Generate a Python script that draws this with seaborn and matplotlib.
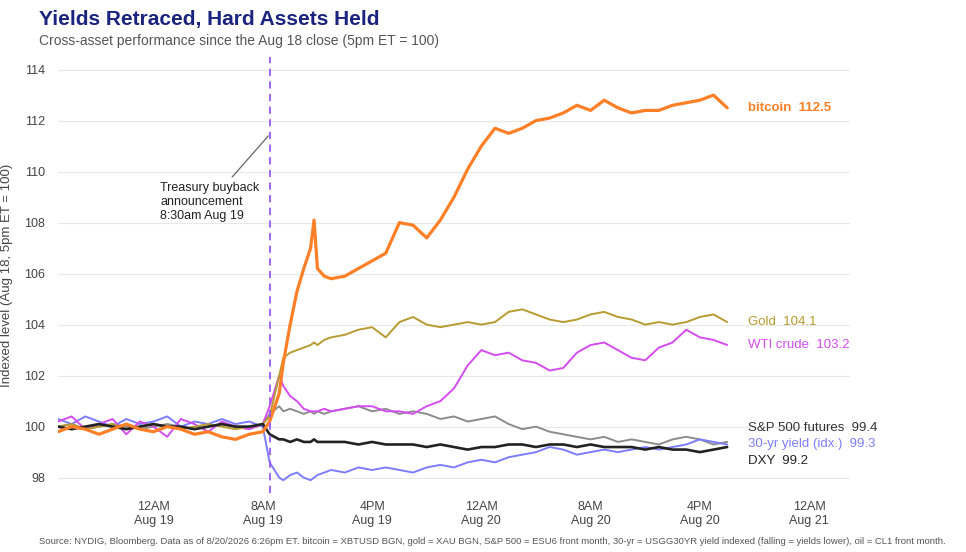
import matplotlib
matplotlib.use("Agg")
import matplotlib.pyplot as plt
import seaborn as sns
import pandas as pd

sns.set_theme(style="white")
plt.rcParams['font.family'] = ['Liberation Sans', 'DejaVu Sans']

hours = [0,1,2,3,4,5,6,7,8,9,10,11,12,13,14,15,15.5,16.2,16.5,17,17.5,18,18.5,18.75,19,19.5] + list(range(20, 50))

bitcoin = [99.8,100.0,99.9,99.7,99.9,100.1,99.9,99.8,100.0,99.9,99.7,99.8,99.6,99.5,99.7,99.8,
           100.2,101.3,102.5,104.0,105.3,106.2,107.0,108.1,106.2,105.9,
           105.8,105.9,106.2,106.5,106.8,108.0,107.9,107.4,108.1,109.0,110.1,111.0,111.7,111.5,111.7,
           112.0,112.1,112.3,112.6,112.4,112.8,112.5,112.3,112.4,112.4,112.6,112.7,112.8,113.0,112.5]
gold = [100.0,100.1,99.9,100.0,100.1,99.9,100.0,100.1,100.0,99.9,100.0,100.1,100.0,99.9,100.0,100.1,
        100.4,102.0,102.7,102.9,103.0,103.1,103.2,103.3,103.2,103.4,
        103.5,103.6,103.8,103.9,103.5,104.1,104.3,104.0,103.9,104.0,104.1,104.0,104.1,104.5,104.6,
        104.4,104.2,104.1,104.2,104.4,104.5,104.3,104.2,104.0,104.1,104.0,104.1,104.3,104.4,104.1]
wti = [100.2,100.4,99.9,100.1,100.3,99.7,100.2,100.0,99.6,100.3,100.1,99.8,100.2,100.0,99.9,100.1,
       100.8,102.0,101.6,101.2,101.0,100.7,100.6,100.6,100.6,100.7,
       100.6,100.7,100.8,100.8,100.6,100.6,100.5,100.8,101.0,101.5,102.4,103.0,102.8,102.9,102.6,
       102.5,102.2,102.3,102.9,103.2,103.3,103.0,102.7,102.6,103.1,103.3,103.8,103.5,103.4,103.2]
spx = [100.0,100.1,99.9,100.0,100.1,100.0,99.9,100.0,100.1,100.0,99.9,100.0,100.1,100.0,99.9,100.1,
       100.5,100.8,100.6,100.7,100.6,100.5,100.6,100.5,100.6,100.5,
       100.6,100.7,100.8,100.6,100.7,100.5,100.6,100.5,100.3,100.4,100.2,100.3,100.4,100.1,99.9,
       100.0,99.8,99.7,99.6,99.5,99.6,99.4,99.5,99.4,99.3,99.5,99.6,99.5,99.3,99.4]
yld = [100.3,100.1,100.4,100.2,100.0,100.3,100.1,100.2,100.4,100.0,100.2,100.1,100.3,100.1,100.2,100.0,
       98.6,98.0,97.9,98.1,98.2,98.0,97.9,98.0,98.1,98.2,
       98.3,98.2,98.4,98.3,98.4,98.3,98.2,98.4,98.5,98.4,98.6,98.7,98.6,98.8,98.9,
       99.0,99.2,99.1,98.9,99.0,99.1,99.0,99.1,99.2,99.1,99.2,99.3,99.5,99.4,99.3]
dxy = [100.0,99.9,100.0,100.1,100.0,99.9,100.0,100.1,100.0,100.0,99.9,100.0,100.1,100.0,100.0,100.1,
       99.7,99.5,99.5,99.4,99.5,99.4,99.4,99.5,99.4,99.4,
       99.4,99.4,99.3,99.4,99.3,99.3,99.3,99.2,99.3,99.2,99.1,99.2,99.2,99.3,99.3,
       99.2,99.3,99.3,99.2,99.3,99.2,99.2,99.2,99.1,99.2,99.1,99.1,99.0,99.1,99.2]

series = [
    ("bitcoin", bitcoin, "#ff7f27", "bitcoin  112.5", True),
    ("Gold", gold, "#b89b30", "Gold  104.1", False),
    ("WTI crude", wti, "#d54cf0", "WTI crude  103.2", False),
    ("S&P 500 futures", spx, "#8c8c8c", "S&P 500 futures  99.4", False),
    ("30-yr yield (idx.)", yld, "#7d7dff", "30-yr yield (idx.)  99.3", False),
    ("DXY", dxy, "#222222", "DXY  99.2", False),
]
label_y = {"bitcoin": 112.5, "Gold": 104.1, "WTI crude": 103.2,
           "S&P 500 futures": 99.95, "30-yr yield (idx.)": 99.3, "DXY": 98.65}
text_col = {"bitcoin": "#ff7f27", "Gold": "#b89b30", "WTI crude": "#d54cf0",
            "S&P 500 futures": "#333333", "30-yr yield (idx.)": "#7d7dff", "DXY": "#222222"}

tick_pos = [7, 15, 23, 31, 39, 47, 55]
tick_lab = ["12AM\nAug 19", "8AM\nAug 19", "4PM\nAug 19", "12AM\nAug 20", "8AM\nAug 20", "4PM\nAug 20", "12AM\nAug 21"]

fig = plt.figure(figsize=(9.66, 5.52), dpi=100)
ax = fig.add_axes([0.06, 0.107, 0.82, 0.79])

order = ["S&P 500 futures", "30-yr yield (idx.)", "WTI crude", "Gold", "DXY", "bitcoin"]
for name in order:
    n, vals, col, lab, bold = [s for s in series if s[0] == name][0]
    df = pd.DataFrame({"h": hours, "v": vals})
    sns.lineplot(data=df, x="h", y="v", ax=ax, color=col,
                 lw=2.3 if n == "bitcoin" else (1.9 if n == "DXY" else 1.4))
for n, vals, col, lab, bold in series:
    ax.text(50.5, label_y[n], lab, color=text_col[n], fontsize=9.5, va="center",
            fontweight="bold" if bold else "normal")

ax.axvline(15.5, color="#9b59f0", ls=(0, (4, 3)), lw=1.3)
ax.annotate("Treasury buyback\nannouncement\n8:30am Aug 19", xy=(15.4, 111.4), xytext=(7.5, 108.8),
            fontsize=9, color="#222222", va="center", ha="left",
            arrowprops=dict(arrowstyle="-", color="#666666", lw=0.9, shrinkB=0, shrinkA=2))

ax.set_xlim(0, 58)
ax.set_ylim(97.4, 114.5)
ax.set_yticks([98, 100, 102, 104, 106, 108, 110, 112, 114])
ax.set_xticks(tick_pos)
ax.set_xticklabels(tick_lab, fontsize=9, color="#444444")
ax.tick_params(axis="y", labelsize=9, labelcolor="#444444")
ax.tick_params(axis="x", length=0, pad=6)
ax.grid(axis="y", color="#e8e8e8", lw=0.8)
ax.set_axisbelow(True)
ax.set_xlabel("")
ax.set_ylabel("Indexed level (Aug 18, 5pm ET = 100)", fontsize=9.5, color="#444444", labelpad=8)
for s in ax.spines.values():
    s.set_visible(False)

fig.text(0.04, 0.955, "Yields Retraced, Hard Assets Held", fontsize=15, fontweight="bold", color="#1a237e")
fig.text(0.04, 0.918, "Cross-asset performance since the Aug 18 close (5pm ET = 100)", fontsize=10, color="#555555")
fig.text(0.04, 0.015, "Source: NYDIG, Bloomberg. Data as of 8/20/2026 6:26pm ET. bitcoin = XBTUSD BGN, gold = XAU BGN, S&P 500 = ESU6 front month, 30-yr = USGG30YR yield indexed (falling = yields lower), oil = CL1 front month.",
         fontsize=6.8, color="#555555")

fig.savefig("out.png", dpi=100)
